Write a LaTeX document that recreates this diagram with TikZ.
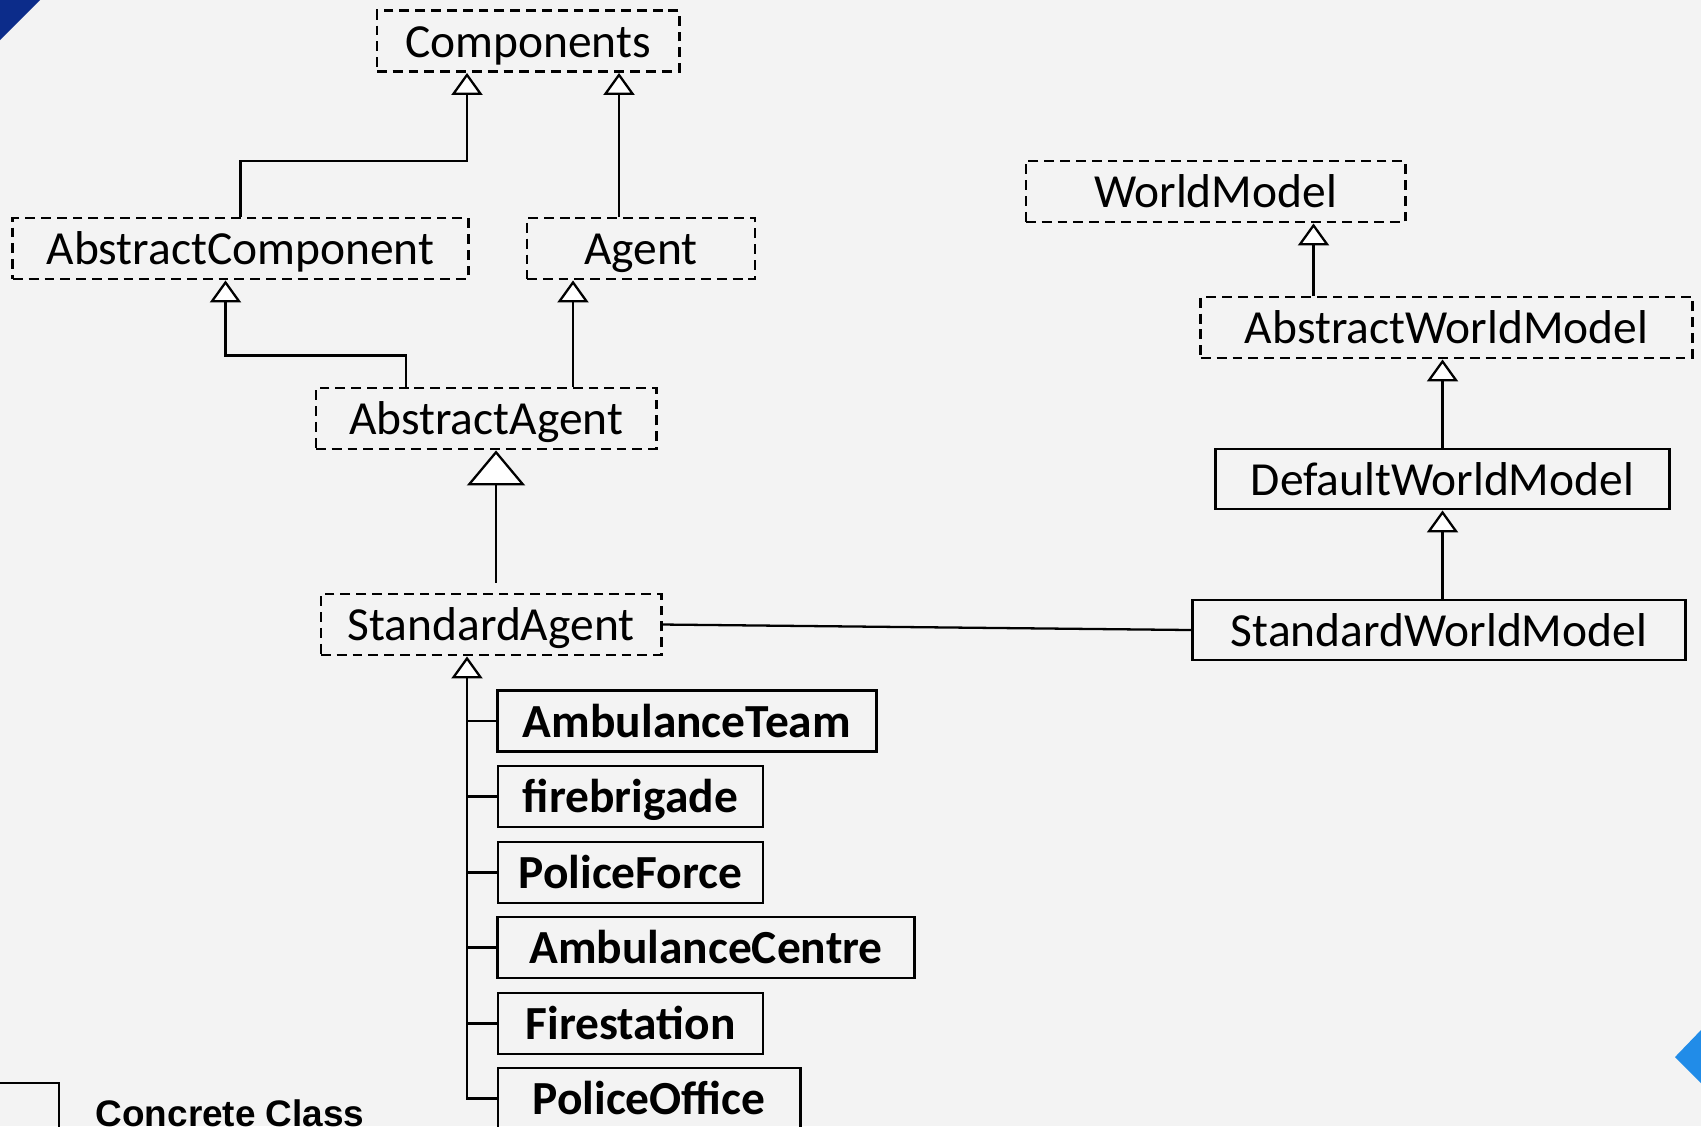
\documentclass[tikz,border=0pt]{standalone}
\usepackage{fontspec}
\usepackage{tikz}
\usetikzlibrary{arrows.meta}
\usetikzlibrary{calc}
\newfontfamily\carlito{Carlito}
\newfontfamily\liberation{Liberation Sans}
\newcommand\clsfont{\carlito\fontsize{13.5pt}{16pt}\selectfont}
\newcommand\legfont{\liberation\bfseries\fontsize{10.5pt}{12pt}\selectfont}
\definecolor{slidebg}{RGB}{243,243,243}
\definecolor{darkcorner}{RGB}{12,44,138}
\definecolor{lightcorner}{RGB}{33,140,232}
\tikzset{absclass/.style = {draw, line width=0.8pt, dash pattern=on 2.8pt off 1.7pt, minimum height=0.61cm, inner sep=0pt, text height=0.32cm, text depth=0pt, font=\clsfont}}
\tikzset{concl/.style = {draw, line width=0.8pt, minimum height=0.61cm, inner sep=0pt, text height=0.32cm, text depth=0pt, font=\clsfont}}
\tikzset{leafcl/.style = {concl, font=\clsfont\bfseries}}
\tikzset{isa/.style = {-{Triangle[length=0.22cm, width=0.31cm, fill=white]}, line width=0.65pt}}
\tikzset{isabig/.style = {-{Triangle[length=0.35cm, width=0.58cm, fill=white]}, line width=0.65pt}}

\begin{document}
\begin{tikzpicture}[x=0.01cm, y=-0.01cm]
    \useasboundingbox (0,0) rectangle (1701,1126);
    \clip (0,0) rectangle (1701,1126);
    \fill[slidebg] (0,0) rectangle (1701,1126);
    \fill[darkcorner] (0,0) -- (40,0) -- (0,40) -- cycle;
    \fill[lightcorner] (1701,1030) -- (1675,1057) -- (1701,1083) -- cycle;

    \node[absclass, minimum width=3.02cm] (Comp) at (528,41) {Components};
    \node[absclass, minimum width=4.55cm] (AC) at (240.5,248.5) {AbstractComponent};
    \node[absclass, minimum width=2.28cm] (Agent) at (641,248.5) {Agent};
    \node[absclass, minimum width=3.40cm] (AA) at (486,418.5) {AbstractAgent};
    \node[absclass, minimum width=3.40cm] (SA) at (491,624.5) {StandardAgent};

    \node[absclass, minimum width=3.79cm] (WM) at (1215.5,191.5) {WorldModel};
    \node[absclass, minimum width=4.91cm] (AWM) at (1446.5,327.5) {AbstractWorldModel};
    \node[concl, minimum width=4.53cm, minimum height=0.60cm] (DWM) at (1442.5,479) {DefaultWorldModel};
    \node[concl, minimum width=4.92cm, minimum height=0.60cm] (SWM) at (1439,630) {StandardWorldModel};

    \node[leafcl, minimum width=3.78cm] (AT) at (687,721) {AmbulanceTeam};
    \node[leafcl, minimum width=2.65cm] (FB) at (630.5,796.5) {firebrigade};
    \node[leafcl, minimum width=2.65cm] (PF) at (630.5,872.5) {PoliceForce};
    \node[leafcl, minimum width=4.16cm] (ACen) at (706,947.5) {AmbulanceCentre};
    \node[leafcl, minimum width=2.65cm] (FS) at (630.5,1023.5) {Firestation};
    \node[leafcl, minimum width=3.02cm] (PO) at (649,1098.5) {PoliceOffice};

    \node[concl, minimum width=0.80cm, minimum height=0.60cm] (legendbox) at (19,1113) {};
    \node[anchor=base west, inner sep=0pt, font=\legfont] (legendtext) at (95,1126.5) {Concrete Class};

    \draw[isa] (AC.north) |- ($(Comp.south)+(-61,88)$) -- ($(Comp.south)+(-61,0)$);
    \draw[isa] ($(Agent.north)+(-22,0)$) -- ($(Comp.south)+(91,0)$);
    \draw[isa] ($(AA.north)+(-80,0)$) |- ($(AC.south)+(-15,75)$) -- ($(AC.south)+(-15,0)$);
    \draw[isa] ($(AA.north)+(87,0)$) -- ($(Agent.south)+(-68,0)$);
    \draw[isabig, shorten <=0.1cm] ($(SA.north)+(5,0)$) -- ($(AA.south)+(10,0)$);

    \coordinate (trunk) at ($(SA.south)+(-24,0)$);
    \draw[isa] (PO.west) -| (trunk);
    \foreach \n in {AT,FB,PF,ACen,FS}
        \draw[line width=0.65pt] (\n.west) -- (\n.west -| trunk);

    \draw[isa] ($(AWM.north)+(-133,0)$) -- ($(WM.south)+(98,0)$);
    \draw[isa] (DWM.north) -- (DWM.north |- AWM.south);
    \draw[isa] (SWM.north -| DWM.south) -- (DWM.south);
    \draw[line width=0.65pt] (SA.east) -- (SWM.west);
\end{tikzpicture}
\end{document}
